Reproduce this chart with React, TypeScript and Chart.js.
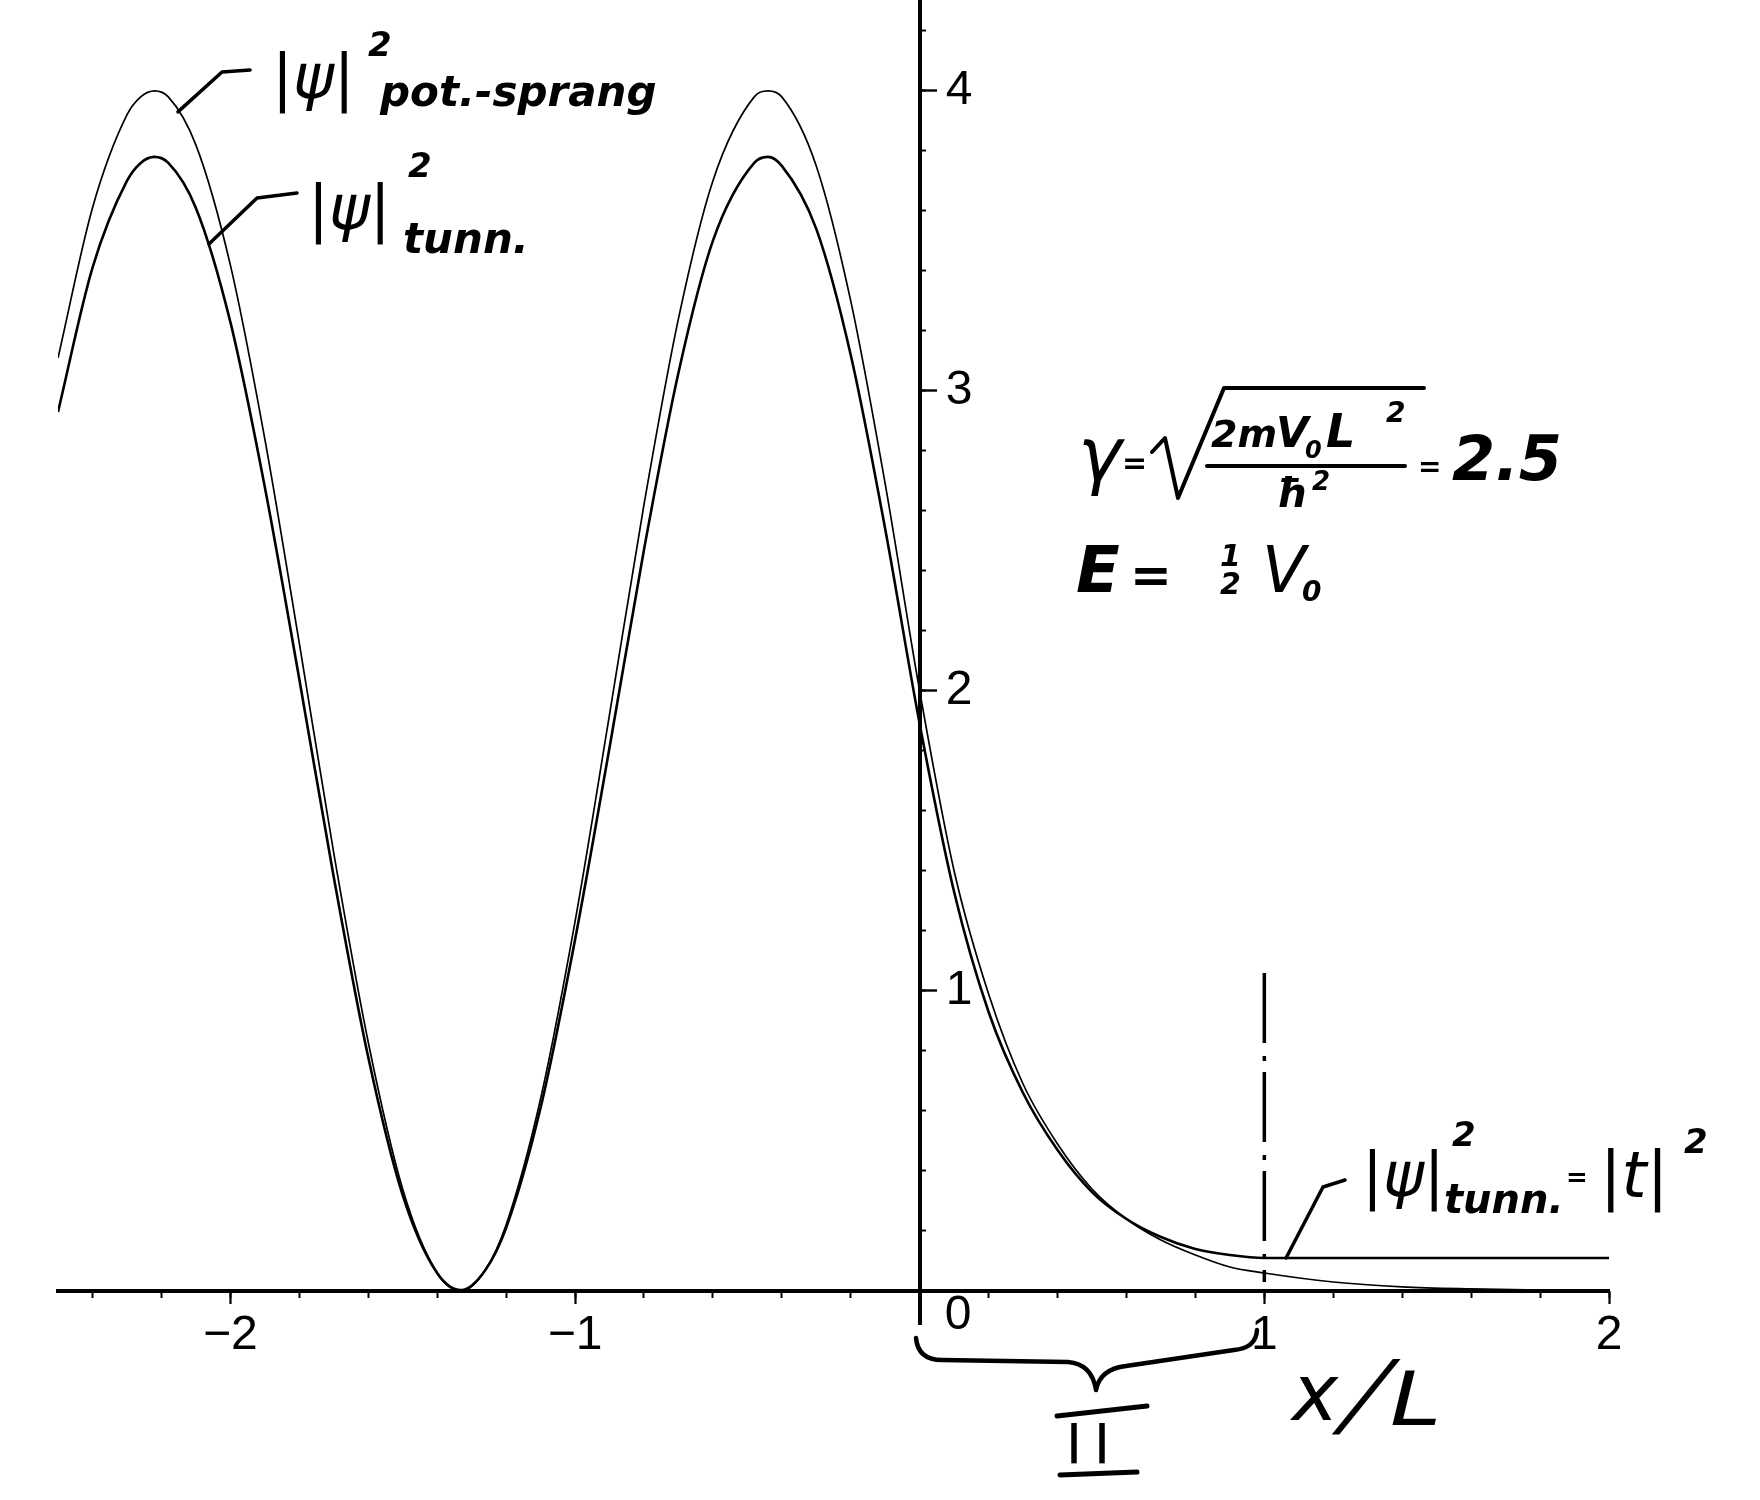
import React, { useEffect, useRef } from "react";
import { Chart, registerables } from "chart.js";

Chart.register(...registerables);

// |psi|^2 for the potential step (thin curve)
const potX = [-2.5, -2.4, -2.3, -2.26, -2.22, -2.18, -2.1, -2.0, -1.9, -1.8, -1.7, -1.6, -1.5, -1.4, -1.33, -1.26, -1.2, -1.1, -1.0, -0.9, -0.8, -0.7, -0.6, -0.48, -0.44, -0.4, -0.3, -0.2, -0.1, 0, 0.1, 0.2, 0.3, 0.4, 0.5, 0.6, 0.7, 0.8, 0.9, 1.0, 1.2, 1.4, 1.6, 1.8, 2.0];
const potY = [3.11, 3.61, 3.92, 3.98, 4.0, 3.98, 3.82, 3.42, 2.84, 2.16, 1.46, 0.83, 0.34, 0.06, 0.0, 0.07, 0.22, 0.64, 1.23, 1.92, 2.62, 3.24, 3.7, 3.98, 4.0, 3.98, 3.75, 3.3, 2.69, 2.0, 1.4, 0.99, 0.69, 0.49, 0.34, 0.24, 0.17, 0.12, 0.08, 0.06, 0.03, 0.014, 0.007, 0.003, 0.002];

// |psi|^2 for tunnelling through the barrier (thick curve)
const tunnX = [-2.5, -2.4, -2.3, -2.26, -2.22, -2.18, -2.1, -2.0, -1.9, -1.8, -1.7, -1.6, -1.5, -1.4, -1.33, -1.26, -1.2, -1.1, -1.0, -0.9, -0.8, -0.7, -0.6, -0.48, -0.44, -0.4, -0.3, -0.2, -0.1, 0, 0.1, 0.2, 0.3, 0.4, 0.5, 0.6, 0.7, 0.8, 0.9, 1.0, 2.0];
const tunnY = [2.93, 3.41, 3.7, 3.76, 3.78, 3.76, 3.61, 3.23, 2.68, 2.04, 1.38, 0.78, 0.32, 0.06, 0.003, 0.07, 0.21, 0.61, 1.17, 1.81, 2.47, 3.06, 3.5, 3.76, 3.78, 3.75, 3.54, 3.12, 2.54, 1.89, 1.33, 0.93, 0.66, 0.47, 0.33, 0.24, 0.18, 0.14, 0.12, 0.11, 0.11];

// dash-dot marker at the barrier edge x/L = 1
const edgeX = [1, 1];
const edgeY = [1.06, 0.03];

// axis ticks and labels
const xTickValues = [-2, -1, 0, 1, 2];
const xTickLabels = ["\u22122", "\u22121", "", "1", "2"];
const yTickValues = [1, 2, 3, 4];
const yTickLabels = ["1", "2", "3", "4"];
const originLabel = "0";

const X_MIN = -2.5;
const X_MAX = 2.0;
const Y_MIN = -0.11;
const Y_MAX = 4.303;

const toPoints = (xs: number[], ys: number[]) => xs.map((x, i) => ({ x, y: ys[i] }));

const HW = (size: number, weight = "bold") => `italic ${weight} ${size}px "DejaVu Sans"`;

const annotationPlugin = {
  id: "handAnnotations",
  afterDraw(chart: any) {
    const ctx: CanvasRenderingContext2D = chart.ctx;
    const xs = chart.scales.x;
    const ys = chart.scales.y;
    const X = (v: number) => xs.getPixelForValue(v);
    const Y = (v: number) => ys.getPixelForValue(v);
    ctx.save();
    ctx.fillStyle = "#000";
    ctx.strokeStyle = "#000";
    ctx.lineCap = "round";
    ctx.lineJoin = "round";

    const put = (s: string, x: number, y: number, font: string, align: CanvasTextAlign = "left") => {
      ctx.font = font;
      ctx.textAlign = align;
      ctx.textBaseline = "alphabetic";
      ctx.fillText(s, x, y);
      return x + ctx.measureText(s).width;
    };
    const putTransformed = (s: string, x: number, y: number, font: string, sx: number, shear: number) => {
      ctx.save();
      ctx.transform(sx, 0, shear, 1, x, y);
      ctx.font = font;
      ctx.textAlign = "left";
      ctx.textBaseline = "alphabetic";
      ctx.fillText(s, 0, 0);
      ctx.restore();
    };
    const poly = (pts: number[][], w: number) => {
      ctx.lineWidth = w;
      ctx.beginPath();
      ctx.moveTo(pts[0][0], pts[0][1]);
      for (let i = 1; i < pts.length; i++) ctx.lineTo(pts[i][0], pts[i][1]);
      ctx.stroke();
    };

    // y tick labels (right of the axis) and origin label
    ctx.font = '48px "Liberation Sans"';
    ctx.textAlign = "left";
    ctx.textBaseline = "middle";
    yTickValues.forEach((v, i) => ctx.fillText(yTickLabels[i], X(0) + 26, Y(v)));
    ctx.fillText(originLabel, X(0) + 25, Y(0) + 25);

    // |psi|^2 pot.-sprang label
    poly([[X(-2.152), Y(3.93)], [222, 72], [250, 70]], 3.5);
    put("|\u03C8|", 272, 98, HW(62, "normal"));
    put("2", 368, 56, HW(34));
    put("pot.-sprang", 380, 106, HW(42));

    // |psi|^2 tunn. label
    poly([[X(-2.062), Y(3.49)], [257, 198], [297, 193]], 3.5);
    put("|\u03C8|", 308, 229, HW(62, "normal"));
    put("2", 408, 177, HW(34));
    put("tunn.", 403, 253, HW(42));

    // gamma formula
    put("\u03B3", 1078, 480, 'italic 74px "DejaVu Sans"');
    put("=", 1122, 473, 'bold 30px "DejaVu Sans"');
    poly([[1152, 452], [1165, 438], [1178, 498], [1224, 388], [1424, 388]], 4);
    put("2m", 1211, 447, HW(38));
    put("V", 1276, 447, HW(42));
    put("0", 1305, 458, HW(24));
    put("L", 1326, 447, HW(46));
    put("2", 1386, 422, HW(28));
    poly([[1207, 466], [1405, 466]], 4);
    put("\u0127", 1276, 507, HW(40));
    put("2", 1312, 490, HW(26));
    put("=", 1418, 476, 'bold 28px "DejaVu Sans"');
    put("2.5", 1452, 480, HW(62));

    // E = 1/2 V0
    put("E", 1076, 592, HW(64));
    put("=", 1130, 592, 'bold 50px "DejaVu Sans"');
    put("1", 1220, 566, HW(30));
    put("2", 1220, 594, HW(30));
    put("V", 1262, 592, HW(64, "normal"));
    put("0", 1302, 601, HW(28));

    // |psi|^2 tunn. = |t|^2 label
    poly([[X(1.063), Y(0.11)], [1323, 1187], [1345, 1180]], 3.5);
    put("|\u03C8|", 1362, 1196, HW(62, "normal"));
    put("2", 1452, 1146, HW(34));
    put("tunn.", 1444, 1213, HW(40));
    put("=", 1566, 1186, 'bold 26px "DejaVu Sans"');
    put("|t|", 1600, 1197, HW(64, "normal"));
    put("2", 1684, 1153, HW(34));

    // brace under region II
    ctx.lineWidth = 4.5;
    ctx.beginPath();
    ctx.moveTo(916, 1338);
    ctx.quadraticCurveTo(918, 1360, 942, 1360);
    ctx.lineTo(1068, 1362);
    ctx.quadraticCurveTo(1092, 1364, 1096, 1390);
    ctx.moveTo(1096, 1390);
    ctx.quadraticCurveTo(1100, 1369, 1126, 1366);
    ctx.lineTo(1234, 1350);
    ctx.quadraticCurveTo(1256, 1348, 1257, 1330);
    ctx.stroke();

    // region label II
    poly([[1057, 1416], [1147, 1406]], 5);
    poly([[1060, 1475], [1137, 1472]], 5);
    put("I", 1074, 1463, '56px "DejaVu Sans"', "center");
    put("I", 1102, 1463, '56px "DejaVu Sans"', "center");

    // axis title x/L
    put("x", 1292, 1420, 'italic 78px "DejaVu Sans"');
    putTransformed("/", 1336, 1426, '92px "DejaVu Sans"', 1.0, -0.5);
    putTransformed("L", 1390, 1425, 'italic 74px "DejaVu Sans"', 1.25, 0);

    ctx.restore();
  },
};

export default function App() {
  const canvasRef = useRef<HTMLCanvasElement | null>(null);

  useEffect(() => {
    const canvas = canvasRef.current;
    if (!canvas) return;
    const chart = new Chart(canvas, {
      type: "line",
      data: {
        datasets: [
          {
            label: "|\u03C8|\u00B2 pot.-sprang",
            data: toPoints(potX, potY),
            xAxisID: "x",
            yAxisID: "y",
            borderColor: "#000",
            borderWidth: 1.7,
            pointRadius: 0,
            fill: false,
            cubicInterpolationMode: "monotone",
          },
          {
            label: "|\u03C8|\u00B2 tunn.",
            data: toPoints(tunnX, tunnY),
            xAxisID: "x",
            yAxisID: "y",
            borderColor: "#000",
            borderWidth: 2.6,
            pointRadius: 0,
            fill: false,
            cubicInterpolationMode: "monotone",
          },
          {
            label: "x/L = 1",
            data: toPoints(edgeX, edgeY),
            xAxisID: "x",
            yAxisID: "y",
            borderColor: "#000",
            borderWidth: 3.5,
            borderDash: [70, 13, 5, 11],
            pointRadius: 0,
            fill: false,
            tension: 0,
          },
        ],
      },
      options: {
        animation: false,
        responsive: false,
        devicePixelRatio: 1,
        layout: { padding: { left: 58, right: 151, top: 0, bottom: 176 } },
        plugins: {
          legend: { display: false },
          tooltip: { enabled: false },
          title: { display: false },
        },
        elements: { point: { radius: 0 } },
        scales: {
          x: {
            type: "linear",
            axis: "x",
            min: X_MIN,
            max: X_MAX,
            position: { y: 0 },
            grid: { display: true, drawOnChartArea: false, drawTicks: true, tickLength: 5, tickWidth: 2, tickColor: "#000" },
            border: { display: true, width: 4, color: "#000" },
            ticks: { display: false, stepSize: 0.2, autoSkip: false, includeBounds: false, maxTicksLimit: 100 },
          },
          xMajor: {
            type: "linear",
            axis: "x",
            min: X_MIN,
            max: X_MAX,
            position: { y: 0 },
            grid: { display: true, drawOnChartArea: false, drawTicks: true, tickLength: 13, tickWidth: 2.2, tickColor: "#000" },
            border: { display: false },
            afterBuildTicks: (axis: any) => {
              axis.ticks = xTickValues.map((v) => ({ value: v }));
            },
            ticks: {
              display: true,
              autoSkip: false,
              maxRotation: 0,
              padding: 3,
              color: "#000",
              font: { family: "Liberation Sans", size: 48 },
              callback: (_v: any, i: number) => xTickLabels[i],
            },
          },
          y: {
            type: "linear",
            axis: "y",
            min: Y_MIN,
            max: Y_MAX,
            position: { x: 0 },
            grid: { display: true, drawOnChartArea: false, drawTicks: true, tickLength: -8, tickWidth: 2, tickColor: "#000" },
            border: { display: true, width: 4, color: "#000" },
            ticks: { display: false, stepSize: 0.2, autoSkip: false, includeBounds: false, maxTicksLimit: 100 },
          },
          yMajor: {
            type: "linear",
            axis: "y",
            min: Y_MIN,
            max: Y_MAX,
            position: { x: 0 },
            grid: { display: true, drawOnChartArea: false, drawTicks: true, tickLength: -17, tickWidth: 2.4, tickColor: "#000" },
            border: { display: false },
            afterBuildTicks: (axis: any) => {
              axis.ticks = yTickValues.map((v) => ({ value: v }));
            },
            ticks: { display: false, autoSkip: false },
          },
        },
      } as any,
      plugins: [annotationPlugin],
    });
    return () => chart.destroy();
  }, []);

  return (
    <div style={{ position: "absolute", left: 0, top: 0, width: 1760, height: 1500, background: "#fff" }}>
      <canvas ref={canvasRef} width={1760} height={1500} style={{ display: "block" }} />
    </div>
  );
}
